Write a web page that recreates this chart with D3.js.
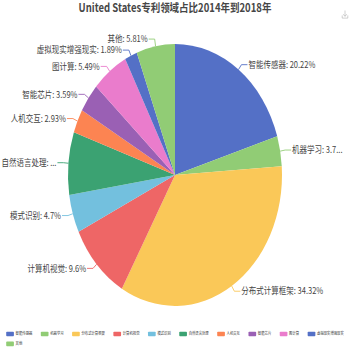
<!DOCTYPE html>
<html><head><meta charset="utf-8">
<script src="https://cdn.jsdelivr.net/npm/d3@7"></script>
<style>body{margin:0;background:#fff}svg{display:block}</style>
</head><body>
<svg id="c" width="350" height="350"></svg>
<script>
const title = 'United States专利领域占比2014年到2018年';
const categories = ['智能传感器','机器学习','分布式计算框架','计算机视觉','模式识别','自然语言处理','人机交互','智能芯片','图计算','虚拟现实增强现实','其他'];
const values = [20.22,3.73,34.32,9.6,4.7,7.72,2.93,3.59,5.49,1.89,5.81];
const colors = ['#5470c6','#91cc75','#fac858','#ee6666','#73c0de','#3ba272','#fc8452','#9a60b4','#ea7ccc','#5470c6','#91cc75'];

const W = 350, H0 = 286, sy = 350 / H0;
const font = '"Noto Sans CJK SC","Noto Sans",sans-serif';
const svg = d3.select('#c');
const root = svg.append('g').attr('transform', `scale(1,${sy})`);

root.append('text').attr('x', 175).attr('y', 9.6).attr('text-anchor', 'middle')
  .attr('font-family', font).attr('font-weight', 'bold').attr('font-size', 9.5)
  .attr('fill', '#464646').text(title);

// toolbox icon
root.append('path')
  .attr('d', 'M345,8.6V13.2M343.2,11.6L345,13.4L346.8,11.6M342.2,12.6V14.8H347.8V12.6')
  .attr('fill', 'none').attr('stroke', '#aaa').attr('stroke-width', 0.5);

const cx = 175, cy = 143, r = 107;
const data = categories.map((c, i) => ({name: c, v: values[i], color: colors[i]}));
const arcs = d3.pie().sort(null).value(d => d.v)(data);
const arc = d3.arc().innerRadius(0).outerRadius(r);
const pg = root.append('g').attr('transform', `translate(${cx},${cy})`);
pg.selectAll('path.s').data(arcs).join('path').attr('class', 's')
  .attr('d', arc).attr('fill', d => d.data.color);

// labels
const len1 = 5, len2 = 6, sp = 9, bleedL = 0.5, bleedR = 7, lfs = 7.5;
const labels = arcs.map(a => {
  const m = (a.startAngle + a.endAngle) / 2;
  const s = Math.sin(m), c = -Math.cos(m);
  return {a, px: s * r, py: c * r, x1: s * (r + len1), y: c * (r + len1), right: s >= 0,
    text: `${a.data.name}: ${a.data.v}%`, color: a.data.color};
});
[true, false].forEach(side => {
  const L = labels.filter(l => l.right === side).sort((p, q) => p.y - q.y);
  const up = L.filter(l => l.y < 0), down = L.filter(l => l.y >= 0);
  for (let i = up.length - 2; i >= 0; i--) { const lim = up[i + 1].y - sp; if (up[i].y > lim) up[i].y = lim; }
  for (let i = 1; i < down.length; i++) { const lim = down[i - 1].y + sp; if (down[i].y < lim) down[i].y = lim; }
});
const lg = pg.append('g');
labels.forEach(l => {
  const dir = l.right ? 1 : -1;
  const x2 = l.x1 + dir * len2;
  lg.append('path').attr('d', `M${l.px},${l.py}L${l.x1},${l.y}L${x2},${l.y}`)
    .attr('fill', 'none').attr('stroke', l.color).attr('stroke-width', 0.8);
  const tx = x2 + dir * 1;
  const t = lg.append('text').attr('x', tx).attr('y', l.y).attr('dy', '0.35em')
    .attr('text-anchor', l.right ? 'start' : 'end')
    .attr('font-family', font).attr('font-size', lfs).attr('fill', '#444').text(l.text);
  const avail = l.right ? (W - bleedR) - (cx + tx) : (cx + tx) - bleedL;
  if (t.node().getComputedTextLength() > avail) {
    let s = l.text;
    while (s.length > 0) {
      s = s.slice(0, -1);
      t.text(s + '...');
      if (t.node().getComputedTextLength() <= avail) break;
    }
  }
});

// legend
const lfont = 3.35, rw = 7.7, rh = 3.8, tp = 1.7, gap = 8.5, maxW = 340, rowY = [272.9, 281.0];
const leg = root.append('g');
const items = data.map(d => {
  const t = leg.append('text').attr('font-family', font).attr('font-size', lfont).attr('fill', '#333').text(d.name);
  return {d, t, w: rw + tp + t.node().getComputedTextLength()};
});
const rows = [[]]; let cur = 0;
items.forEach(it => {
  const add = (rows[rows.length - 1].length ? gap : 0) + it.w;
  if (cur + add > maxW && rows[rows.length - 1].length) { rows.push([]); cur = it.w; }
  else cur += add;
  rows[rows.length - 1].push(it);
});
const rowW = rows.map(rw_ => d3.sum(rw_, i => i.w) + gap * (rw_.length - 1));
const lx0 = (W - d3.max(rowW)) / 2;
rows.forEach((row, ri) => {
  let x = lx0; const y = rowY[ri] !== undefined ? rowY[ri] : rowY[0] + ri * 8.1;
  row.forEach(it => {
    leg.append('rect').attr('x', x).attr('y', y - rh / 2).attr('width', rw).attr('height', rh)
      .attr('rx', 0.8).attr('fill', it.d.color);
    it.t.attr('x', x + rw + tp).attr('y', y).attr('dy', '0.35em');
    x += it.w + gap;
  });
});
</script>
</body></html>
